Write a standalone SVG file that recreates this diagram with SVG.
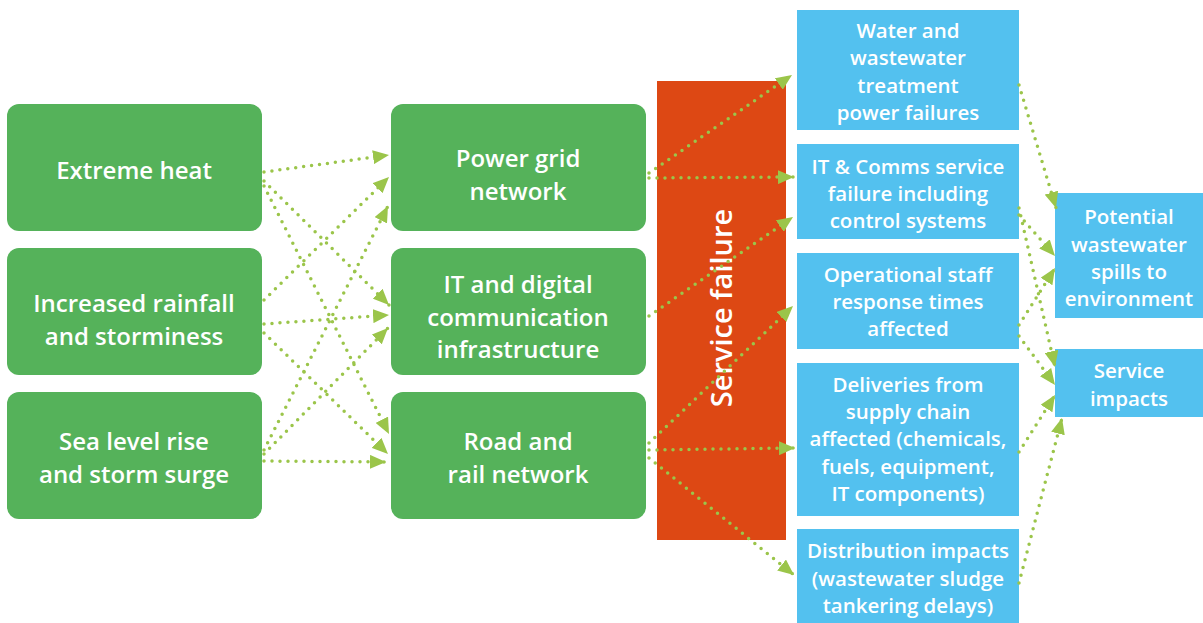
<svg xmlns="http://www.w3.org/2000/svg" width="1203" height="623" viewBox="0 0 1203 623">
<style>
.g{fill:#55B25A}
.b{fill:#53C1EF}
.t{fill:#fff;font-family:"Open Sans",Lato,sans-serif;font-weight:600;text-anchor:middle;dominant-baseline:central}
.tl{font-size:24px}
.ts{font-size:20.5px}
.c{fill:none;stroke:#9BC54A;stroke-width:3.5;stroke-dasharray:0 8;stroke-linecap:round;marker-end:url(#ah)}
</style>
<defs>
<marker id="ah" markerUnits="userSpaceOnUse" markerWidth="17" markerHeight="14" refX="16" refY="7" orient="auto"><path d="M0,0 L16,7 L0,14 z" fill="#9BC54A"/></marker>
</defs>
<rect width="1203" height="623" fill="#fff"/>
<g id="n-extreme-heat"><rect class="g" x="7" y="104" width="255" height="127" rx="12"/><text class="t tl" x="134" y="169">Extreme heat</text></g>
<g id="n-rainfall"><rect class="g" x="7" y="248" width="255" height="127" rx="12"/><text class="t tl" x="134" y="302">Increased rainfall</text><text class="t tl" x="134" y="335">and storminess</text></g>
<g id="n-sea-level"><rect class="g" x="7" y="392" width="255" height="127" rx="12"/><text class="t tl" x="134" y="440">Sea level rise</text><text class="t tl" x="134" y="473">and storm surge</text></g>
<g id="n-power-grid"><rect class="g" x="391" y="104" width="255" height="127" rx="12"/><text class="t tl" x="518" y="157">Power grid</text><text class="t tl" x="518" y="190">network</text></g>
<g id="n-it-digital"><rect class="g" x="391" y="248" width="255" height="127" rx="12"/><text class="t tl" x="518" y="283">IT and digital</text><text class="t tl" x="518" y="316">communication</text><text class="t tl" x="518" y="348">infrastructure</text></g>
<g id="n-road-rail"><rect class="g" x="391" y="392" width="255" height="127" rx="12"/><text class="t tl" x="518" y="440">Road and</text><text class="t tl" x="518" y="473">rail network</text></g>
<g id="n-service-failure"><rect x="657" y="81" width="129" height="459" fill="#DD4814"/><text class="t" style="font-size:29px" transform="translate(720,308) rotate(-90)">Service failure</text></g>
<g id="n-water"><rect class="b" x="797" y="10" width="222" height="120"/><text class="t ts" x="908" y="30">Water and</text><text class="t ts" x="908" y="57">wastewater</text><text class="t ts" x="908" y="85">treatment</text><text class="t ts" x="908" y="112">power failures</text></g>
<g id="n-itcomms"><rect class="b" x="797" y="144" width="222" height="95"/><text class="t ts" x="908" y="166">IT &amp; Comms service</text><text class="t ts" x="908" y="193">failure including</text><text class="t ts" x="908" y="220">control systems</text></g>
<g id="n-staff"><rect class="b" x="797" y="253" width="222" height="96"/><text class="t ts" x="908" y="274">Operational staff</text><text class="t ts" x="908" y="301">response times</text><text class="t ts" x="908" y="328">affected</text></g>
<g id="n-deliveries"><rect class="b" x="797" y="363" width="222" height="153"/><text class="t ts" x="908" y="384">Deliveries from</text><text class="t ts" x="908" y="411">supply chain</text><text class="t ts" x="908" y="438">affected (chemicals,</text><text class="t ts" x="908" y="466">fuels, equipment,</text><text class="t ts" x="908" y="493">IT components)</text></g>
<g id="n-distribution"><rect class="b" x="797" y="529" width="222" height="94"/><text class="t ts" x="908" y="550">Distribution impacts</text><text class="t ts" x="908" y="578">(wastewater sludge</text><text class="t ts" x="908" y="605">tankering delays)</text></g>
<g id="n-spills"><rect class="b" x="1055" y="193" width="148" height="125"/><text class="t ts" x="1129" y="216">Potential</text><text class="t ts" x="1129" y="244">wastewater</text><text class="t ts" x="1129" y="271">spills to</text><text class="t ts" x="1129" y="298">environment</text></g>
<g id="n-service-impacts"><rect class="b" x="1055" y="349" width="148" height="68"/><text class="t ts" x="1129" y="370">Service</text><text class="t ts" x="1129" y="398">impacts</text></g>
<g id="connectors">
<path class="c" d="M264,172 L389,155"/>
<path class="c" d="M264,181 L389,305"/>
<path class="c" d="M264,186 L389,434"/>
<path class="c" d="M264,300 L389,177"/>
<path class="c" d="M264,324 L389,315"/>
<path class="c" d="M264,333 L388,454"/>
<path class="c" d="M264,450 L388,206"/>
<path class="c" d="M264,454 L388,328"/>
<path class="c" d="M264,461 L386,462"/>
<path class="c" d="M649,173 L792,75"/>
<path class="c" d="M649,178 L794,177"/>
<path class="c" d="M649,316 L793,217"/>
<path class="c" d="M649,443 L793,306"/>
<path class="c" d="M649,450 L795,448"/>
<path class="c" d="M649,458 L794,575"/>
<path class="c" d="M1019,85 L1056,208"/>
<path class="c" d="M1019,215 L1055,256"/>
<path class="c" d="M1019,208 L1055,367"/>
<path class="c" d="M1019,325 L1055,268"/>
<path class="c" d="M1019,336 L1055,385"/>
<path class="c" d="M1019,452 L1055,395"/>
<path class="c" d="M1019,583 L1062,418"/>
</g>
</svg>
